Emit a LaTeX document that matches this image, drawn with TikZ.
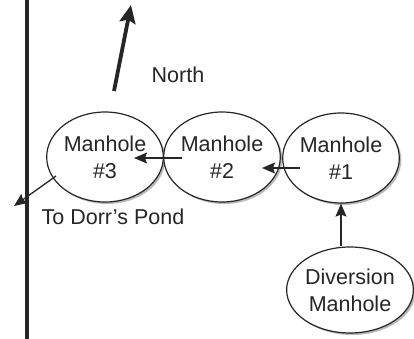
\documentclass[tikz,border=0pt]{standalone}
\usepackage{fontspec}
\setmainfont{Liberation Sans}
\usetikzlibrary{shapes.geometric,shadows,arrows.meta}
\definecolor{ink}{HTML}{262626}
\begin{document}
\begin{tikzpicture}[x=1pt,y=-1pt,
  hole/.style={ellipse, draw=ink, line width=1.2pt, fill=white, inner sep=0pt,
    minimum width=114pt, minimum height=90pt, align=center,
    font=\fontsize{21.5}{27}\selectfont, text=ink,
    drop shadow={shadow xshift=2pt, shadow yshift=-2pt, fill=gray!55, opacity=1}},
  flow/.style={draw=ink, line width=1.3pt, -{Stealth[length=13pt,width=11pt,inset=2pt]}},
  lbl/.style={font=\fontsize{21.5}{24}\selectfont, text=ink, inner sep=0pt}]
\useasboundingbox (0,0) rectangle (414,339);
\fill[white] (0,0) rectangle (414,339);
% vertical boundary line
\coordinate (vt) at (27,0);
\coordinate (vb) at (27,339);
\draw[ink, line width=3.8pt] (vt) -- (vb);
% north arrow
\coordinate (ntail) at (114,91);
\coordinate (ntip) at (131,5);
\draw[ink, line width=3.8pt, -{Stealth[length=18pt,width=16pt,inset=3pt]}] (ntail) -- (ntip);
\node[lbl] (north) at (178,75) {North};
% manholes
\node[hole] (m3) at (105,157) {Manhole\\\#3};
\node[hole] (m2) at (222,157) {Manhole\\\#2};
\node[hole] (m1) at (341,158) {Manhole\\\#1};
\node[hole, minimum width=108pt, minimum height=86pt] (div) at (350,290) {Diversion\\Manhole};
% flows
\coordinate (a1s) at (300,168);
\coordinate (a1e) at (262,168);
\draw[flow] (a1s) -- (a1e);
\coordinate (a2s) at (182,158);
\coordinate (a2e) at (134,158);
\draw[flow] (a2s) -- (a2e);
\draw[flow] (div.north -| m1) -- (m1.south);
\coordinate (ps) at (56,176);
\coordinate (pe) at (14,206);
\draw[flow] (ps) -- (pe);
\node[lbl] (pond) at (113,217) {To Dorr's Pond};
\end{tikzpicture}
\end{document}
